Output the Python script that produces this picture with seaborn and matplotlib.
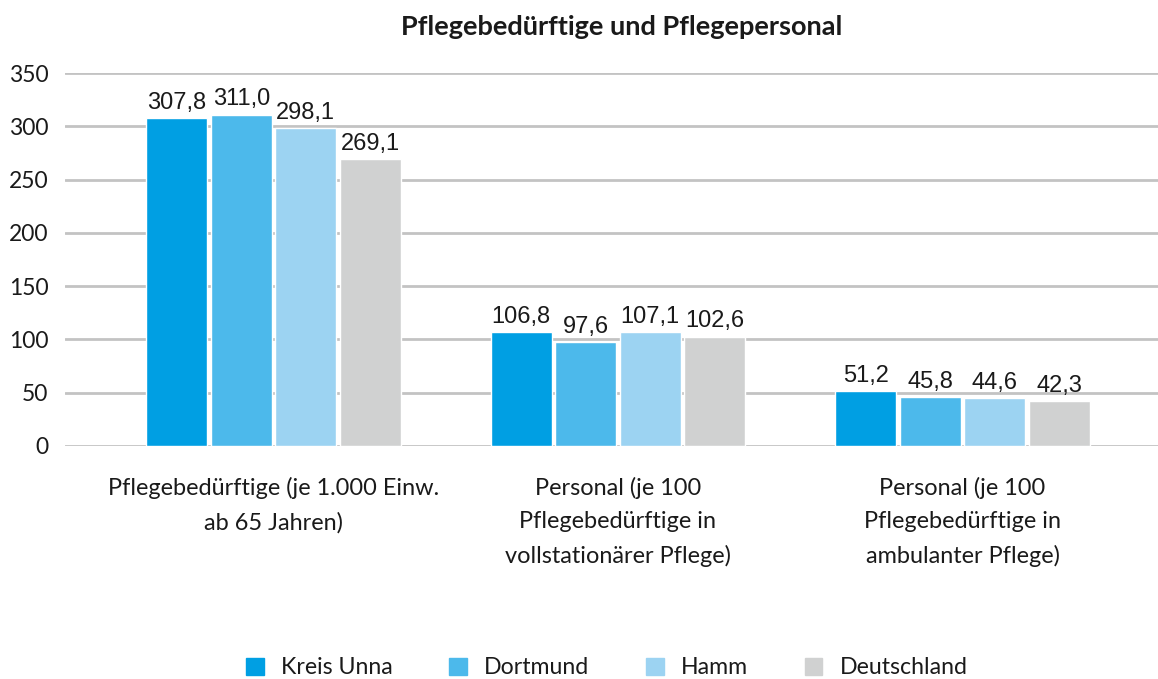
import matplotlib
matplotlib.use("Agg")
import matplotlib.pyplot as plt
import seaborn as sns
import pandas as pd

categories = [
    "Pflegebedürftige (je 1.000 Einw.\nab 65 Jahren)",
    "Personal (je 100\nPflegebedürftige in\nvollstationärer Pflege)",
    "Personal (je 100\nPflegebedürftige in\nambulanter Pflege)",
]
series = ["Kreis Unna", "Dortmund", "Hamm", "Deutschland"]
kreis_unna = [307.8, 106.8, 51.2]
dortmund = [311.0, 97.6, 45.8]
hamm = [298.1, 107.1, 44.6]
deutschland = [269.1, 102.6, 42.3]
colors = ["#009FE3", "#4CB9EB", "#9CD3F2", "#D0D1D1"]
yticks = [0, 50, 100, 150, 200, 250, 300, 350]

values = {"Kreis Unna": kreis_unna, "Dortmund": dortmund, "Hamm": hamm, "Deutschland": deutschland}
rows = []
for s in series:
    for c, v in zip(categories, values[s]):
        rows.append({"Kategorie": c, "Region": s, "Wert": v})
df = pd.DataFrame(rows)

sns.set_theme(style="white")
plt.rcParams["font.family"] = ["Lato", "DejaVu Sans"]

fig = plt.figure(figsize=(11.58, 6.79), dpi=100)
ax = fig.add_axes([65 / 1158, 1 - 446 / 679, 1 - 65 / 1158, (446 - 73) / 679])

sns.barplot(data=df, x="Kategorie", y="Wert", hue="Region", hue_order=series,
            order=categories, palette=colors, width=0.749, gap=0.055,
            saturation=1, ax=ax, legend=True, errorbar=None)

for cont in ax.containers:
    labels = [f"{b.get_height():.1f}".replace(".", ",") for b in cont]
    ax.bar_label(cont, labels=labels, padding=3, fontsize=17,
                 fontfamily="Liberation Sans", color="#1a1a1a")

ax.set_ylim(0, 350)
ax.set_yticks(yticks)
ax.set_xlim(-0.6052, 2.5675)
ax.yaxis.grid(True, color="#c3c3c3", linewidth=2)
ax.set_axisbelow(True)
for sp in ax.spines.values():
    sp.set_visible(False)
ax.tick_params(axis="y", length=0, pad=12, labelsize=16.5, labelcolor="#1a1a1a")
ax.tick_params(axis="x", length=0, pad=22.5, labelsize=16.9, labelcolor="#1a1a1a")
ax.set_xticks(range(len(categories)))
ax.set_xticklabels(categories, linespacing=1.7, fontsize=16.9, color="#1a1a1a")
ax.set_xlabel("")
ax.set_ylabel("")

ax.get_legend().remove()
handles = [plt.Rectangle((0, 0), 1, 1, color=c) for c in colors]
fig.legend(handles, series, loc="center", bbox_to_anchor=(607 / 1158, 1 - 668 / 679),
           ncol=4, frameon=False, fontsize=16.7, handlelength=0.75, handleheight=0.75,
           handletextpad=0.75, columnspacing=2.45, labelcolor="#1a1a1a")

fig.text(622 / 1158, 1 - 27 / 679, "Pflegebedürftige und Pflegepersonal",
         ha="center", va="center", fontsize=19.5, fontweight="bold", color="#1a1a1a")

fig.savefig("out.png", dpi=100)
